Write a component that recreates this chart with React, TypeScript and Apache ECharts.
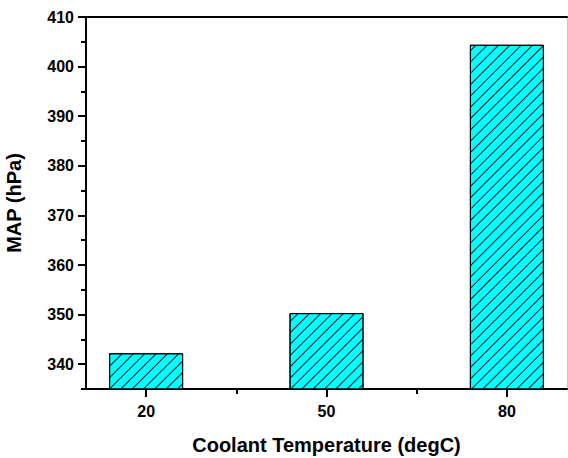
import React, { useEffect, useRef } from "react";
import * as echarts from "echarts";

const temperatures = [20, 50, 80];
const mapValues = [342.2, 350.3, 404.4];
const xMajorTicks = [20, 50, 80];
const xMinorTicks = [35, 65];
const yMajorTicks = [340, 350, 360, 370, 380, 390, 400, 410];
const yMinorTicks = [335, 345, 355, 365, 375, 385, 395, 405];

export default function App() {
  const ref = useRef<HTMLDivElement>(null);
  useEffect(() => {
    if (!ref.current) return;
    const chart = echarts.init(ref.current, null, { renderer: "svg" });
    const font = "'Liberation Sans', Arial, sans-serif";
    const axisLine = { show: true, lineStyle: { color: "#000", width: 2 } };
    chart.setOption({
      animation: false,
      backgroundColor: "#fff",
      grid: { left: 86, right: 1, top: 17, bottom: 69, containLabel: false, outerBoundsMode: "none" },
      xAxis: [
        {
          type: "value",
          min: 10,
          max: 90,
          position: "bottom",
          axisLine,
          splitLine: { show: false },
          axisTick: { show: true, length: 8, lineStyle: { color: "#000", width: 2 }, customValues: xMajorTicks },
          axisLabel: { customValues: xMajorTicks, color: "#000", fontSize: 16, fontWeight: "bold", fontFamily: font, margin: 14 },
          name: "Coolant Temperature (degC)",
          nameLocation: "middle",
          nameGap: 46,
          nameTextStyle: { color: "#000", fontSize: 20, fontWeight: "bold", fontFamily: font },
        },
        {
          type: "value",
          min: 10,
          max: 90,
          position: "bottom",
          axisLine: { show: false },
          splitLine: { show: false },
          axisTick: { show: true, length: 5, lineStyle: { color: "#000", width: 2 }, customValues: xMinorTicks },
          axisLabel: { show: false },
        },
        {
          type: "value",
          min: 10,
          max: 90,
          position: "top",
          axisLine,
          splitLine: { show: false },
          axisTick: { show: false },
          axisLabel: { show: false },
        },
      ],
      yAxis: [
        {
          type: "value",
          min: 335,
          max: 410,
          position: "left",
          axisLine,
          splitLine: { show: false },
          axisTick: { show: true, length: 8, lineStyle: { color: "#000", width: 2 }, customValues: yMajorTicks },
          axisLabel: { customValues: yMajorTicks, color: "#000", fontSize: 16, fontWeight: "bold", fontFamily: font, margin: 12 },
          name: "MAP (hPa)",
          nameLocation: "middle",
          nameGap: 62,
          nameTextStyle: { color: "#000", fontSize: 20, fontWeight: "bold", fontFamily: font },
        },
        {
          type: "value",
          min: 335,
          max: 410,
          position: "left",
          axisLine: { show: false },
          splitLine: { show: false },
          axisTick: { show: true, length: 5, lineStyle: { color: "#000", width: 2 }, customValues: yMinorTicks },
          axisLabel: { show: false },
        },
        {
          type: "value",
          min: 335,
          max: 410,
          position: "right",
          axisLine: { show: true, lineStyle: { color: "#c8c8c8", width: 1 } },
          splitLine: { show: false },
          axisTick: { show: false },
          axisLabel: { show: false },
        },
      ],
      series: [
        {
          type: "bar",
          xAxisIndex: 0,
          yAxisIndex: 0,
          barWidth: 74,
          data: temperatures.map((t, i) => [t, mapValues[i]]),
          itemStyle: {
            color: "#00ffff",
            borderColor: "#000",
            borderWidth: 1,
            decal: {
              symbol: "rect",
              symbolSize: 1,
              color: "#1a1a1a",
              dashArrayX: [1, 0],
              dashArrayY: [1, 6.3],
              rotation: -Math.PI / 4,
            },
          },
        },
      ],
    });
    return () => chart.dispose();
  }, []);
  return <div ref={ref} style={{ width: 568, height: 458, position: "absolute", left: 0, top: 0 }} />;
}
